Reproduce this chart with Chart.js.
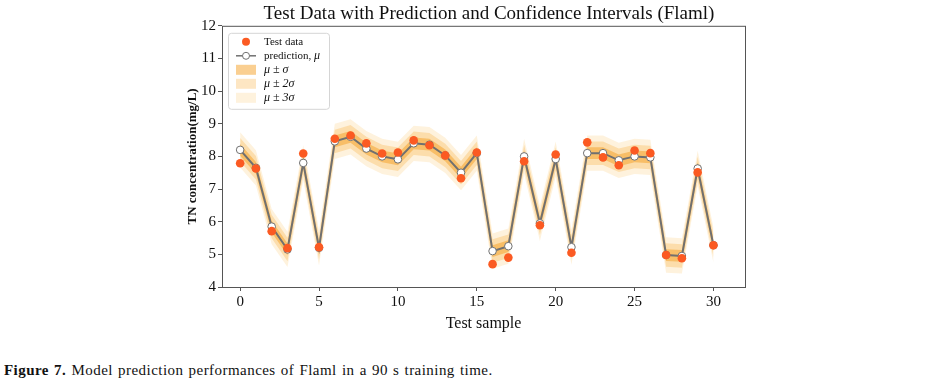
<!DOCTYPE html>
<html lang="en">
  <head>
    <meta charset="UTF-8" />
    <title>Flaml - Test Data with Prediction</title>
    <script src="https://cdn.jsdelivr.net/npm/chart.js"></script>
    <style>
      body {
        margin: 0;
        background: #fff;
        font-family: "Liberation Serif", serif;
      }
      .chart-box {
        position: relative;
        width: 936px;
        height: 340px;
      }
      .caption {
        margin: 22px 0 0 4px;
        font-size: 15px;
        letter-spacing: 0.45px;
        word-spacing: 1px;
        color: #111;
      }
    </style>
  </head>
  <body>
    <div class="chart-box">
      <canvas id="flamlChart"></canvas>
    </div>
    <div class="caption"><b>Figure 7.</b> Model prediction performances of Flaml in a 90 s training time.</div>

    <script>
      // test samples 0..30
      const sampleIdx = [0, 1, 2, 3, 4, 5, 6, 7, 8, 9, 10, 11, 12, 13, 14, 15,
        16, 17, 18, 19, 20, 21, 22, 23, 24, 25, 26, 27, 28, 29, 30];
      const testData = [7.79, 7.63, 5.71, 5.19, 8.09, 5.22, 8.54, 8.64, 8.40, 8.09,
        8.12, 8.49, 8.34, 8.03, 7.33, 8.12, 4.70, 4.90, 7.85, 5.89, 8.06, 5.05,
        8.43, 7.97, 7.73, 8.18, 8.10, 4.98, 4.88, 7.51, 5.28];
      const prediction = [8.20, 7.65, 5.85, 5.15, 7.80, 5.20, 8.46, 8.60, 8.24, 8.00,
        7.91, 8.40, 8.36, 8.03, 7.50, 8.10, 5.10, 5.25, 8.00, 5.95, 7.92, 5.22,
        8.10, 8.10, 7.88, 8.00, 7.97, 4.98, 4.95, 7.63, 5.28];
      const sigma = 0.18;
      const xTickValues = [0, 5, 10, 15, 20, 25, 30];
      const yTickValues = [4, 5, 6, 7, 8, 9, 10, 11, 12];

      const toPoints = (arr) => arr.map((v, i) => ({ x: sampleIdx[i], y: v }));
      const band = (k) => ({
        upper: toPoints(prediction.map((v) => v + k * sigma)),
        lower: toPoints(prediction.map((v) => v - k * sigma)),
      });

      const testColor = "#fb5a22";
      const bandColors = [
        "rgba(246, 160, 35, 0.5)",
        "rgba(250, 172, 55, 0.3)",
        "rgba(252, 188, 85, 0.2)",
      ];

      const bandSets = [];
      [1, 2, 3].forEach((k) => {
        const b = band(k);
        bandSets.push({
          data: b.upper,
          fill: "+1",
          backgroundColor: bandColors[k - 1],
          borderWidth: 0,
          pointRadius: 0,
        });
        bandSets.push({ data: b.lower, fill: false, borderWidth: 0, pointRadius: 0 });
      });

      // frame around the plot (all four spines)
      const framePlugin = {
        id: "frame",
        afterDatasetsDraw(chart) {
          const { ctx, chartArea: a } = chart;
          ctx.save();
          ctx.strokeStyle = "#555";
          ctx.lineWidth = 1;
          ctx.strokeRect(a.left + 0.5, a.top + 0.5, a.right - a.left, a.bottom - a.top);
          ctx.restore();
        },
      };

      // legend drawn inside the upper left corner
      const legendItems = [
        { label: "Test data", kind: "dot" },
        { label: "prediction,", math: "\u03bc", kind: "line" },
        { label: "", math: "\u03bc \u00b1 \u03c3", kind: "patch", color: bandColors[0] },
        { label: "", math: "\u03bc \u00b1 2\u03c3", kind: "patch", color: bandColors[1] },
        { label: "", math: "\u03bc \u00b1 3\u03c3", kind: "patch", color: bandColors[2] },
      ];
      const legendPlugin = {
        id: "innerLegend",
        afterDraw(chart) {
          const { ctx, chartArea: a } = chart;
          const x0 = a.left + 6, y0 = a.top + 7;
          ctx.save();
          ctx.fillStyle = "rgba(255,255,255,0.85)";
          ctx.strokeStyle = "#d5d5d5";
          ctx.lineWidth = 1;
          ctx.beginPath();
          ctx.roundRect(x0 + 0.5, y0 + 0.5, 101, 76, 3);
          ctx.fill();
          ctx.stroke();
          ctx.textBaseline = "middle";
          legendItems.forEach((item, i) => {
            const cy = y0 + 9 + i * 14;
            const ix = x0 + 8;
            if (item.kind === "dot") {
              ctx.fillStyle = testColor;
              ctx.beginPath();
              ctx.arc(ix + 10, cy, 4, 0, Math.PI * 2);
              ctx.fill();
            } else if (item.kind === "line") {
              ctx.strokeStyle = "#707070";
              ctx.lineWidth = 1.5;
              ctx.beginPath();
              ctx.moveTo(ix, cy);
              ctx.lineTo(ix + 20, cy);
              ctx.stroke();
              ctx.fillStyle = "#fff";
              ctx.lineWidth = 1;
              ctx.beginPath();
              ctx.arc(ix + 10, cy, 3.5, 0, Math.PI * 2);
              ctx.fill();
              ctx.stroke();
            } else {
              ctx.fillStyle = item.color;
              ctx.fillRect(ix, cy - 5, 20, 10);
            }
            ctx.fillStyle = "#111";
            let tx = ix + 28;
            if (item.label) {
              ctx.font = "11px 'Liberation Serif'";
              ctx.fillText(item.label, tx, cy);
              tx += ctx.measureText(item.label + " ").width;
            }
            if (item.math) {
              ctx.font = "italic 12px 'Liberation Serif'";
              ctx.fillText(item.math, tx, cy);
            }
          });
          ctx.restore();
        },
      };

      new Chart(document.getElementById("flamlChart").getContext("2d"), {
        type: "line",
        data: {
          datasets: [
            {
              label: "Test data",
              data: toPoints(testData),
              showLine: false,
              pointRadius: 4.3,
              pointBorderWidth: 0,
              pointBackgroundColor: testColor,
              borderColor: testColor,
            },
            {
              label: "prediction",
              data: toPoints(prediction),
              borderColor: "#707070",
              borderWidth: 2,
              pointRadius: 3.8,
              pointBorderWidth: 1,
              pointBackgroundColor: "#fff",
              pointBorderColor: "#707070",
              tension: 0,
            },
            ...bandSets,
          ],
        },
        options: {
          responsive: true,
          maintainAspectRatio: false,
          animation: false,
          layout: { padding: { left: 180, right: 138, top: 0, bottom: 0 } },
          plugins: {
            legend: { display: false },
            tooltip: { enabled: false },
            title: {
              display: true,
              text: "Test Data with Prediction and Confidence Intervals (Flaml)",
              color: "#111",
              font: { family: "Liberation Serif", size: 19, weight: "normal", lineHeight: 1.2 },
              padding: { top: 3, bottom: 0 },
            },
          },
          scales: {
            x: {
              type: "linear",
              min: -1.15,
              max: 32,
              afterBuildTicks: (s) => { s.ticks = xTickValues.map((v) => ({ value: v })); },
              afterFit: (s) => { s.height = 53; },
              grid: { drawOnChartArea: false, tickLength: 4, color: "#555" },
              border: { display: false },
              ticks: {
                color: "#111",
                padding: 2,
                maxRotation: 0,
                font: { family: "Liberation Serif", size: 15 },
              },
              title: {
                display: true,
                text: "Test sample",
                color: "#111",
                font: { family: "Liberation Serif", size: 16, lineHeight: 1.2 },
                padding: { top: 0, bottom: 7 },
              },
            },
            y: {
              min: 4,
              max: 12,
              afterBuildTicks: (s) => { s.ticks = yTickValues.map((v) => ({ value: v })); },
              afterFit: (s) => { s.width = 42; },
              grid: { drawOnChartArea: false, tickLength: 4, color: "#555" },
              border: { display: false },
              ticks: {
                color: "#111",
                padding: 2,
                font: { family: "Liberation Serif", size: 15 },
              },
              title: {
                display: true,
                text: "TN concentration(mg/L)",
                color: "#111",
                font: { family: "Liberation Serif", size: 13, weight: "bold", lineHeight: 1.2 },
                padding: { top: 5, bottom: 0 },
              },
            },
            // empty right-hand spacer so the title centres like the original
            ySpace: {
              position: "right",
              min: 4,
              max: 12,
              afterFit: (s) => { s.width = 53; },
              grid: { display: false },
              border: { display: false },
              ticks: { display: false },
            },
          },
        },
        plugins: [framePlugin, legendPlugin],
      });
    </script>
  </body>
</html>
